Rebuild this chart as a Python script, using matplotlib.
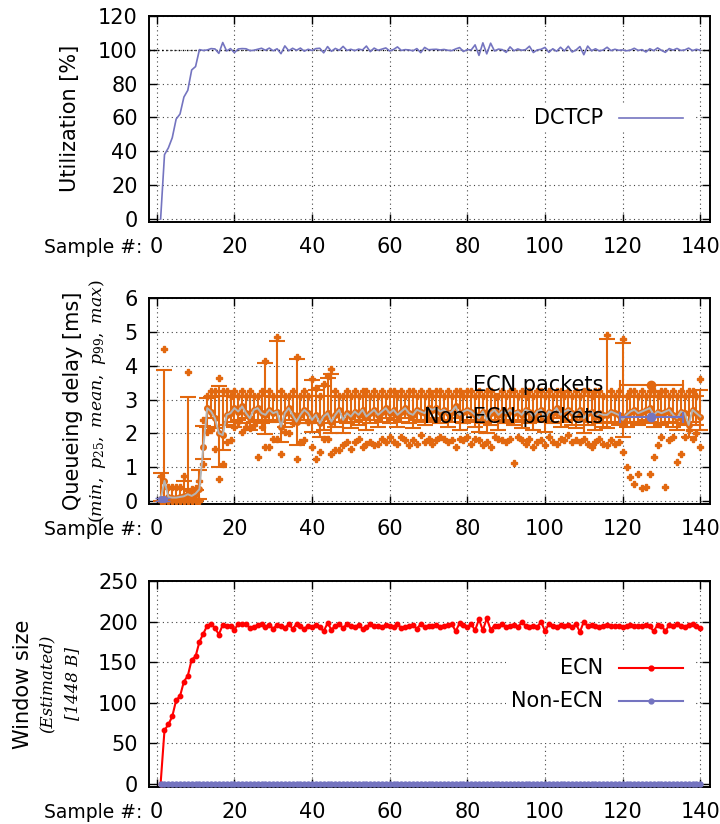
import matplotlib
matplotlib.use("Agg")
import matplotlib.pyplot as plt
from matplotlib.patches import Rectangle
import numpy as np

plt.rcParams['font.family'] = ['DejaVu Sans']
plt.rcParams['mathtext.fontset'] = 'dejavuserif'

# sample index
samples = np.arange(1, 141)

# --- panel 1: link utilization [%]
utilization = [
    0, 38, 42, 48, 59, 62, 72, 76, 88, 90,
    100, 99.5, 99.8, 100.6, 100.4, 97.8, 104.2, 99.2, 100.6, 98.2,
    100.4, 100.6, 100.5, 99.4, 99.6, 100.2, 100.8, 99.6, 100.9, 99.3,
    100.5, 97.6, 102.2, 99.3, 100.8, 99.6, 100.9, 99.1, 100.2, 99.5,
    100.6, 100.8, 98.1, 101.8, 99.0, 100.7, 99.6, 101.9, 99.5, 100.2,
    99.4, 100.3, 99.8, 102.1, 98.8, 100.9, 99.6, 100.3, 101.0, 99.2,
    100.1, 101.6, 99.5, 100.0, 99.8, 99.3, 100.6, 98.2, 101.3, 99.9,
    100.1, 100.2, 99.8, 100.1, 99.6, 99.4, 100.4, 101.2, 98.9, 100.0,
    99.8, 102.8, 96.6, 104.0, 97.5, 103.8, 99.2, 100.3, 100.0, 98.4,
    101.6, 99.3, 100.4, 99.6, 100.0, 102.0, 98.3, 99.8, 100.2, 101.3,
    98.4, 100.5, 99.0, 101.4, 99.2, 102.0, 98.6, 99.8, 101.8, 97.0,
    102.1, 99.3, 100.5, 99.2, 99.8, 101.4, 99.4, 100.2, 99.6, 99.8,
    99.3, 99.7, 100.8, 99.5, 100.0, 98.6, 100.5, 99.4, 101.0, 99.6,
    98.4, 100.6, 99.7, 100.7, 99.5, 99.8, 100.9, 99.4, 100.2, 99.6,
]

# --- panel 2: queueing delay of ECN packets [ms]
delay_min = [
    0.00, 0.00, 0.00, 0.00, 0.00, 0.00, 0.00, 0.00, 0.00, 0.00,
    0.00, 1.10, 2.05, 2.10, 1.55, 0.65, 1.10, 1.75, 1.80, 2.20,
    2.35, 2.05, 2.20, 2.15, 2.25, 1.30, 2.20, 1.60, 1.60, 1.85,
    1.85, 1.40, 2.05, 2.00, 2.30, 1.25, 1.75, 1.80, 2.35, 1.60,
    1.25, 1.45, 1.85, 1.85, 1.40, 1.50, 1.50, 1.65, 1.75, 1.55,
    1.75, 1.85, 1.60, 1.70, 1.75, 1.65, 1.70, 1.85, 1.75, 1.90,
    1.75, 1.70, 1.90, 1.80, 1.65, 1.80, 1.70, 1.95, 1.75, 1.85,
    1.70, 1.80, 1.90, 1.85, 1.75, 1.80, 1.60, 1.85, 1.80, 1.90,
    1.70, 1.85, 1.80, 1.65, 1.75, 1.60, 1.90, 1.85, 1.80, 1.75,
    1.85, 1.13, 1.90, 1.80, 1.70, 1.85, 1.60, 1.75, 1.80, 1.65,
    1.90, 1.75, 1.70, 1.85, 1.80, 1.95, 1.75, 1.80, 1.75, 1.85,
    1.70, 1.60, 1.75, 1.85, 1.70, 1.65, 1.80, 1.70, 1.75, 1.44,
    1.00, 0.70, 0.50, 0.80, 0.38, 0.40, 0.80, 1.30, 1.65, 1.90,
    0.40, 1.80, 1.90, 1.15, 1.40, 1.90, 2.10, 1.85, 2.00, 1.60,
]
delay_p25 = [
    0.00, 0.00, 0.02, 0.02, 0.02, 0.02, 0.02, 0.03, 0.02, 0.03,
    0.05, 1.25, 2.20, 2.45, 2.15, 1.02, 1.50, 2.25, 2.35, 2.20,
    2.40, 2.30, 2.45, 2.10, 2.35, 2.40, 2.30, 1.97, 2.35, 2.40,
    2.35, 1.75, 2.20, 2.40, 2.30, 1.65, 2.30, 2.40, 2.30, 2.05,
    2.30, 1.90, 2.10, 2.30, 2.00, 2.20, 2.35, 2.00, 2.30, 2.15,
    2.35, 2.25, 2.40, 2.10, 2.30, 2.40, 2.20, 2.35, 2.45, 2.30,
    2.40, 2.20, 2.35, 2.45, 2.30, 2.15, 2.40, 2.35, 2.25, 2.40,
    2.35, 2.45, 2.30, 2.40, 2.20, 2.35, 2.45, 2.10, 2.30, 2.40,
    2.35, 2.20, 2.05, 2.30, 2.00, 2.25, 2.40, 2.10, 2.35, 2.30,
    2.40, 2.25, 2.35, 2.15, 2.40, 2.30, 2.10, 2.35, 2.40, 2.05,
    2.35, 2.30, 2.45, 2.20, 2.35, 2.40, 2.25, 2.15, 2.40, 2.00,
    2.25, 2.35, 2.10, 2.30, 2.20, 2.15, 2.35, 2.30, 2.25, 1.90,
    2.20, 2.30, 2.35, 2.25, 2.30, 2.40, 2.35, 2.20, 2.30, 2.25,
    2.30, 2.35, 2.20, 2.10, 2.30, 2.25, 1.90, 2.35, 2.25, 2.10,
]
delay_mean = [
    0.05, 0.60, 0.12, 0.10, 0.10, 0.12, 0.14, 0.20, 0.15, 0.22,
    0.35, 1.60, 2.75, 2.65, 2.45, 2.00, 1.95, 2.55, 2.60, 2.75,
    2.65, 2.80, 2.60, 2.45, 2.70, 2.75, 2.60, 2.55, 2.70, 2.60,
    2.65, 2.20, 2.60, 2.75, 2.55, 2.35, 2.55, 2.70, 2.60, 2.40,
    2.55, 2.30, 2.50, 2.60, 2.35, 2.55, 2.70, 2.40, 2.60, 2.50,
    2.65, 2.55, 2.70, 2.50, 2.60, 2.70, 2.55, 2.65, 2.75, 2.60,
    2.70, 2.55, 2.65, 2.75, 2.60, 2.55, 2.70, 2.65, 2.60, 2.75,
    2.70, 2.75, 2.65, 2.70, 2.60, 2.65, 2.80, 2.55, 2.65, 2.70,
    2.65, 2.55, 2.45, 2.65, 2.40, 2.60, 2.70, 2.55, 2.65, 2.60,
    2.70, 2.60, 2.65, 2.55, 2.70, 2.65, 2.50, 2.65, 2.70, 2.45,
    2.65, 2.60, 2.75, 2.55, 2.65, 2.70, 2.60, 2.55, 2.70, 2.45,
    2.60, 2.65, 2.50, 2.60, 2.55, 2.55, 2.65, 2.60, 2.55, 2.40,
    2.55, 2.65, 2.70, 2.60, 2.65, 2.70, 2.75, 2.55, 2.65, 2.60,
    2.65, 2.70, 2.55, 2.45, 2.65, 2.60, 2.25, 2.70, 2.60, 2.50,
]
delay_p99 = [
    0.84, 3.88, 0.37, 0.37, 0.37, 0.37, 0.60, 3.09, 0.30, 0.32,
    0.91, 2.23, 3.05, 3.08, 3.10, 3.41, 3.10, 3.12, 3.10, 3.08,
    3.10, 3.12, 3.10, 3.08, 3.10, 3.12, 3.10, 4.08, 3.10, 3.08,
    4.74, 3.10, 3.12, 3.10, 3.08, 4.21, 3.10, 3.12, 3.10, 3.58,
    3.30, 3.10, 3.40, 3.65, 3.75, 3.10, 3.08, 3.12, 3.10, 3.10,
    3.08, 3.12, 3.10, 3.10, 3.08, 3.12, 3.10, 3.10, 3.08, 3.12,
    3.10, 3.10, 3.08, 3.12, 3.10, 3.10, 3.08, 3.12, 3.10, 3.10,
    3.08, 3.12, 3.10, 3.10, 3.08, 3.12, 3.10, 3.10, 3.08, 3.12,
    3.10, 3.10, 3.08, 3.12, 3.10, 3.10, 3.08, 3.12, 3.10, 3.10,
    3.08, 3.12, 3.10, 3.10, 3.08, 3.12, 3.10, 3.10, 3.08, 3.12,
    3.10, 3.10, 3.08, 3.12, 3.10, 3.10, 3.08, 3.12, 3.10, 3.10,
    3.10, 3.10, 3.08, 3.12, 3.10, 4.81, 3.10, 3.08, 3.12, 4.69,
    3.10, 3.10, 3.08, 3.12, 3.10, 3.10, 3.08, 3.12, 3.10, 3.10,
    3.10, 3.08, 3.12, 3.10, 3.10, 3.08, 3.12, 3.10, 3.10, 3.30,
]
delay_max = [
    0.75, 4.49, 0.42, 0.42, 0.42, 0.42, 0.75, 3.81, 0.35, 0.38,
    0.58, 2.40, 3.10, 3.25, 3.25, 3.64, 3.25, 3.25, 3.10, 3.25,
    3.10, 3.25, 3.10, 3.25, 3.10, 3.10, 3.25, 4.15, 3.25, 3.10,
    4.87, 3.25, 3.10, 3.10, 3.25, 4.25, 3.10, 3.25, 3.10, 3.60,
    3.35, 3.10, 3.45, 3.70, 3.90, 3.25, 3.10, 3.10, 3.25, 3.10,
    3.25, 3.10, 3.25, 3.25, 3.10, 3.25, 3.10, 3.25, 3.10, 3.25,
    3.25, 3.10, 3.25, 3.10, 3.25, 3.25, 3.10, 3.25, 3.10, 3.25,
    3.10, 3.25, 3.25, 3.10, 3.25, 3.10, 3.25, 3.25, 3.10, 3.25,
    3.25, 3.10, 3.25, 3.10, 3.25, 3.25, 3.10, 3.10, 3.25, 3.10,
    3.25, 3.25, 3.10, 3.25, 3.10, 3.25, 3.10, 3.25, 3.25, 3.10,
    3.25, 3.10, 3.25, 3.25, 3.10, 3.25, 3.10, 3.25, 3.10, 3.25,
    3.25, 3.10, 3.25, 3.25, 3.10, 4.93, 3.25, 3.10, 3.25, 4.80,
    3.10, 3.25, 3.25, 3.10, 3.25, 3.10, 3.25, 3.25, 3.10, 3.25,
    3.25, 3.10, 3.25, 3.10, 3.25, 3.10, 3.25, 3.25, 3.10, 3.60,
]

# non-ECN packets only show up in the first samples
nonecn_samples = [1, 2]
nonecn_delay = [0.05, 0.05]
nonecn_low = [0.0, 0.0]
nonecn_high = [0.10, 0.10]

# --- panel 3: estimated window size [1448 B]
window_ecn = [
    0, 66, 73, 83, 103, 108, 126, 133, 153, 157,
    175, 185, 195, 197, 192, 184, 196, 195, 195, 190,
    197, 197, 197, 192, 193, 196, 197, 193, 196, 191,
    196, 194, 192, 197, 191, 197, 194, 191, 195, 193,
    196, 193, 188, 198, 190, 195, 197, 192, 197, 194,
    193, 196, 191, 193, 197, 194, 195, 193, 196, 195,
    193, 197, 192, 193, 194, 196, 191, 197, 193, 195,
    195, 196, 193, 194, 196, 197, 188, 198, 196, 193,
    197, 189, 203, 189, 204, 190, 195, 194, 197, 193,
    195, 196, 193, 199, 195, 193, 194, 193, 200, 188,
    197, 195, 193, 196, 194, 196, 193, 197, 187, 200,
    194, 196, 195, 193, 195, 196, 194, 194, 195, 193,
    194, 196, 195, 194, 195, 196, 194, 188, 196, 195,
    188, 196, 195, 197, 194, 193, 196, 197, 195, 192,
]
window_nonecn = [0] * 140

x_ticks = [0, 20, 40, 60, 80, 100, 120, 140]

ORANGE = '#e2680f'
BLUE = '#7474c0'
GREY = '#b4b4b4'

fig = plt.figure(figsize=(7.2, 8.24), dpi=100)
ax1 = fig.add_axes([0.2069, 0.7309, 0.7792, 0.2500])
ax2 = fig.add_axes([0.2069, 0.3883, 0.7792, 0.2496])
ax3 = fig.add_axes([0.2069, 0.0453, 0.7792, 0.2496])


def style_axis(ax, yticks, ylim):
    ax.set_xlim(-2, 142.5)
    ax.set_ylim(*ylim)
    ax.set_xticks(x_ticks)
    ax.set_yticks(yticks)
    ax.tick_params(direction='in', length=6, width=1, top=True, right=True,
                   labelsize=15, pad=8)
    ax.tick_params(axis='x', pad=11)
    ax.grid(True, color='#444444', linestyle=(0, (1, 3)), linewidth=0.8)
    ax.set_axisbelow(True)
    for s in ax.spines.values():
        s.set_linewidth(1.4)
    ax.text(-0.012, -0.125, 'Sample #:', transform=ax.transAxes,
            ha='right', va='center', fontsize=13.5)


def legend_box(ax, x0, y0, x1, y1):
    ax.add_patch(Rectangle((x0, y0), x1 - x0, y1 - y0, transform=ax.transAxes,
                           facecolor='white', edgecolor='none', zorder=1.5))


# ---- utilization
style_axis(ax1, [0, 20, 40, 60, 80, 100, 120], (-1.6, 120))
ax1.axhline(100, color='black', linestyle=(0, (1, 2)), linewidth=1.0, zorder=1.2)
legend_box(ax1, 0.67, 0.44, 0.975, 0.565)
ax1.plot(samples, utilization, color=BLUE, lw=1.2, zorder=3)
ax1.text(0.81, 0.502, 'DCTCP', transform=ax1.transAxes, ha='right',
         va='center', fontsize=15, zorder=5)
ax1.plot([0.838, 0.951], [0.502, 0.502], transform=ax1.transAxes,
         color=BLUE, lw=1.2, zorder=5)
ax1.text(-0.141, 0.5, 'Utilization [%]', transform=ax1.transAxes,
         rotation=90, ha='center', va='center', fontsize=15)

# ---- queueing delay
style_axis(ax2, [0, 1, 2, 3, 4, 5, 6], (-0.09, 6))
mean = np.array(delay_mean)
yerr = [mean - np.array(delay_p25), np.array(delay_p99) - mean]
ax2.errorbar(samples, mean, yerr=yerr, fmt='o', ms=4, color=ORANGE,
             ecolor=ORANGE, elinewidth=1.5, capsize=6, capthick=1.5, zorder=3)
ax2.plot(samples, delay_min, 'P', ms=5, color=ORANGE, ls='none', zorder=3)
ax2.plot(samples, delay_max, 'P', ms=5, color=ORANGE, ls='none', zorder=3)
ax2.plot(samples, mean, color=GREY, lw=1.4, zorder=4)
nm = np.array(nonecn_delay)
ax2.errorbar(nonecn_samples, nm,
             yerr=[nm - np.array(nonecn_low), np.array(nonecn_high) - nm],
             fmt='o', ms=4, color=BLUE, elinewidth=1.5, capsize=4, zorder=4)

# legend drawn the gnuplot way: text on the left, sample on the right
for yy, lab, col in [(0.5785, 'ECN packets', ORANGE),
                     (0.423, 'Non-ECN packets', BLUE)]:
    ax2.text(0.81, yy, lab, transform=ax2.transAxes, ha='right', va='center',
             fontsize=15, zorder=6)
    ax2.plot([0.8396, 0.9519], [yy, yy], transform=ax2.transAxes,
             color=col, lw=1.5, zorder=6)
    for xe in (0.8396, 0.9519):
        ax2.plot([xe, xe], [yy - 0.022, yy + 0.022], transform=ax2.transAxes,
                 color=col, lw=1.5, zorder=6)
    ax2.plot([0.8957], [yy], 'o', ms=6, color=col, transform=ax2.transAxes,
             zorder=6)

ax2.text(-0.1355, 0.5, 'Queueing delay [ms]', transform=ax2.transAxes,
         rotation=90, ha='center', va='center', fontsize=15)
ax2.text(-0.091, 0.5, r'$(min,\ p_{25},\ mean,\ p_{99},\ max)$',
         transform=ax2.transAxes, rotation=90, ha='center', va='center',
         fontsize=12.5)

# ---- window size
style_axis(ax3, [0, 50, 100, 150, 200, 250], (-3.7, 250))
legend_box(ax3, 0.636, 0.21, 0.975, 0.66)
ax3.plot(samples, window_ecn, color='red', lw=1.5, marker='o', ms=3.2, zorder=3)
ax3.plot(samples, window_nonecn, color=BLUE, lw=2.5, marker='o', ms=3.6, zorder=3)
for yy, lab, col in [(0.5785, 'ECN', 'red'), (0.418, 'Non-ECN', BLUE)]:
    ax3.text(0.81, yy, lab, transform=ax3.transAxes, ha='right', va='center',
             fontsize=15, zorder=6)
    ax3.plot([0.838, 0.951], [yy, yy], transform=ax3.transAxes,
             color=col, lw=1.5, zorder=6)
    ax3.plot([0.8945], [yy], 'o', ms=3.5, color=col, transform=ax3.transAxes,
             zorder=6)

ax3.text(-0.2246, 0.5, 'Window size', transform=ax3.transAxes,
         rotation=90, ha='center', va='center', fontsize=15)
ax3.text(-0.182, 0.5, '(Estimated)', transform=ax3.transAxes, rotation=90,
         ha='center', va='center', fontsize=12, family='DejaVu Serif',
         style='italic')
ax3.text(-0.137, 0.5, '[1448 B]', transform=ax3.transAxes, rotation=90,
         ha='center', va='center', fontsize=12, family='DejaVu Serif',
         style='italic')

fig.savefig('out.png', dpi=100)
